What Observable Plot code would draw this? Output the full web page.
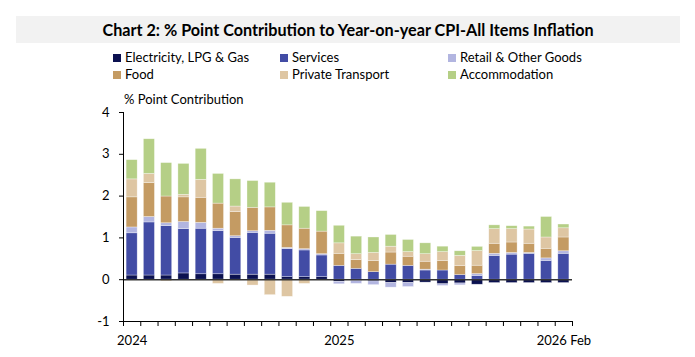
<!DOCTYPE html>
<html><head><meta charset="utf-8">
<script src="https://cdn.jsdelivr.net/npm/d3@7"></script>
<script src="https://cdn.jsdelivr.net/npm/@observablehq/plot@0.6"></script>
<style>
body{margin:0;width:695px;height:357px;background:#fff;position:relative;overflow:hidden;font-family:Lato,"Open Sans",sans-serif;color:#000}
#title{position:absolute;left:16px;top:16px;width:664px;height:27px;background:#f2f2f2;font-weight:bold;font-size:16.2px;line-height:27px;text-align:center}
.lg{position:absolute;font-size:13px;line-height:16px;white-space:nowrap}
.sw{display:inline-block;width:8px;height:8px;margin-right:4px;vertical-align:0px}
#ylab{position:absolute;left:124px;top:91px;font-size:13px;line-height:16px}
#chart{position:absolute;left:0;top:88px}
</style></head><body>
<div id="title">Chart 2: % Point Contribution to Year-on-year CPI-All Items Inflation</div>
<div id="legend"></div>
<div id="ylab">% Point Contribution</div>
<div id="chart"></div>
<script>
const months = ["2024-01","2024-02","2024-03","2024-04","2024-05","2024-06","2024-07","2024-08","2024-09","2024-10","2024-11","2024-12",
  "2025-01","2025-02","2025-03","2025-04","2025-05","2025-06","2025-07","2025-08","2025-09","2025-10","2025-11","2025-12",
  "2026-01","2026-02"];
const seriesNames = ["Electricity, LPG & Gas","Services","Retail & Other Goods","Food","Private Transport","Accommodation"];
const seriesColors = ["#0b1150","#424ca5","#b2b5e0","#c49b63","#dec6a3","#b5cf86"];
const electricity = [0.10,0.10,0.10,0.15,0.13,0.13,0.12,0.12,0.12,0.06,0.06,0.06,-0.05,-0.03,-0.04,-0.08,-0.08,-0.07,-0.11,-0.09,-0.12,-0.08,-0.08,-0.08,-0.08,-0.08];
const services = [1.01,1.27,1.18,1.06,1.09,1.03,0.88,1.00,0.98,0.67,0.64,0.52,0.33,0.26,0.18,0.36,0.33,0.22,0.22,0.11,0.09,0.57,0.60,0.62,0.45,0.62];
const retail = [0.14,0.13,0.07,0.17,0.14,0.06,0.04,0.04,0.07,0.03,0.03,0.03,-0.06,-0.07,-0.09,-0.11,-0.095,0.02,-0.04,-0.045,0.045,0.05,0.04,0.02,0.06,0.06];
const food = [0.72,0.81,0.64,0.59,0.60,0.60,0.58,0.56,0.56,0.54,0.49,0.54,0.29,0.21,0.27,0.29,0.22,0.19,0.23,0.22,0.20,0.24,0.25,0.22,0.23,0.33];
const privateTransport = [0.43,0.22,-0.04,0.06,0.43,-0.10,0.13,-0.14,-0.37,-0.41,-0.10,0.0,0.25,0.14,0.19,0.14,0.11,0.18,0.21,0.24,0.35,0.35,0.32,0.34,0.27,0.22];
const accommodation = [0.46,0.83,0.80,0.74,0.74,0.71,0.65,0.64,0.59,0.54,0.52,0.49,0.42,0.42,0.37,0.28,0.29,0.26,0.13,0.11,0.10,0.09,0.07,0.07,0.49,0.09];
const yTicks = [-1,0,1,2,3,4];
const xTickLabels = ["2024","2025","2026 Feb"];
const xTickIndex = [0,12,25];

const seriesValues = [electricity, services, retail, food, privateTransport, accommodation];
const data = [];
seriesNames.forEach((s, k) => months.forEach((m, i) => data.push({i, month: m, series: s, value: seriesValues[k][i]})));

// legend
const legendPos = [[113,49],[280,49],[448,49],[113,66],[280,66],[448,66]];
const lg = document.getElementById("legend");
seriesNames.forEach((s,k)=>{
  const d = document.createElement("div");
  d.className = "lg";
  d.style.left = legendPos[k][0]+"px"; d.style.top = legendPos[k][1]+"px";
  d.innerHTML = `<span class="sw" style="background:${seriesColors[k]}"></span>${s}`;
  lg.appendChild(d);
});

const bounds = d3.range(months.length + 1);
const labelData = xTickIndex.map((i,k)=>({x: i + 0.5, label: xTickLabels[k]}));

const chart = Plot.plot({
  width: 695, height: 269,
  marginTop: 24, marginBottom: 36, marginLeft: 123, marginRight: 123,
  style: {fontFamily: "Lato, 'Open Sans', sans-serif", fontSize: "13px", color: "#000", background: "transparent"},
  x: {domain: [0, months.length], axis: null},
  y: {domain: [-1, 4], axis: null},
  color: {domain: seriesNames, range: seriesColors},
  marks: [
    Plot.rectY(data, {x: "i", interval: 1, y: "value", fill: "series", insetLeft: 3.1, insetRight: 3.1, stroke: "#ffffff", strokeOpacity: 0.55, strokeWidth: 0.6}),
    Plot.ruleY([0], {stroke: "#333", strokeWidth: 1.4}),
    Plot.ruleX([0], {stroke: "#000", strokeWidth: 1}),
    Plot.ruleY([-1], {stroke: "#000", strokeWidth: 1}),
    Plot.axisY({ticks: yTicks, tickSize: 4, tickPadding: 10, tickFormat: d => d, fontSize: 13, label: null, stroke: "#000"}),
    Plot.axisX({ticks: bounds, tickSize: 5, tickFormat: () => "", label: null, anchor: "bottom", stroke: "#000"}),
    Plot.text(labelData, {x: "x", y: -1, text: "label", dy: 19, fontSize: 13, fill: "#000"})
  ]
});
document.getElementById("chart").appendChild(chart);
</script>
</body></html>
